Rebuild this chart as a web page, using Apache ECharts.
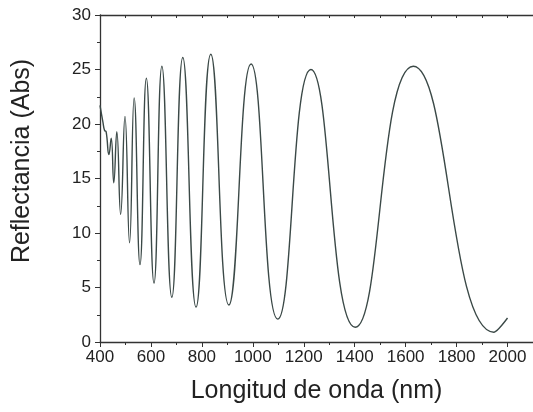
<!DOCTYPE html>
<html>
<head>
<meta charset="utf-8">
<script src="https://cdn.jsdelivr.net/npm/echarts@6/dist/echarts.min.js"></script>
<style>
html, body { margin: 0; padding: 0; background: #fff; }
#chart { width: 533px; height: 412px; }
</style>
</head>
<body>
<div id="chart"></div>
<script>
// wavelength (nm)
var wavelength = [400, 412, 418, 424, 435, 444, 454, 466, 481, 498, 516, 534, 557, 582, 612, 643, 682, 725, 777, 835, 906, 993, 1098, 1228, 1402, 1630, 1946, 2000];
// reflectance values
var reflect = [21.7, 20.1, 19.4, 19.3, 17.2, 18.7, 14.6, 19.3, 11.7, 20.7, 9.1, 22.4, 7.1, 24.2, 5.4, 25.3, 4.1, 26.1, 3.2, 26.4, 3.4, 25.5, 2.1, 25.0, 1.35, 25.3, 0.9, 2.2];

var points = [];
for (var i = 0; i < wavelength.length; i++) {
    points.push([wavelength[i], reflect[i]]);
}

var axisColor = '#333';
var labelFont = { fontFamily: 'Liberation Sans', fontSize: 17, color: '#222' };

var myChart = echarts.init(document.getElementById('chart'));
var option = {
    animation: false,
    grid: { left: 100, top: 15, right: -7, bottom: 70 },
    xAxis: [{
        type: 'value',
        min: 400,
        max: 2100,
        interval: 200,
        name: 'Longitud de onda (nm)',
        nameLocation: 'middle',
        nameGap: 37,
        nameTextStyle: { fontFamily: 'Liberation Sans', fontSize: 25, color: '#222' },
        axisLine: { lineStyle: { color: axisColor, width: 1.3 } },
        axisTick: { inside: false, length: 5, lineStyle: { color: axisColor } },
        minorTick: { show: true, splitNumber: 2, length: 3, lineStyle: { color: axisColor } },
        axisLabel: Object.assign({ margin: 7, showMaxLabel: false, formatter: function (v) { return String(v); } }, labelFont),
        splitLine: { show: false }
    }, {
        type: 'value',
        position: 'top',
        min: 400,
        max: 2100,
        interval: 100,
        axisLine: { show: true, lineStyle: { color: axisColor, width: 1.3 } },
        axisTick: { inside: true, length: 3, lineStyle: { color: axisColor } },
        axisLabel: { show: false },
        splitLine: { show: false }
    }],
    yAxis: {
        type: 'value',
        min: 0,
        max: 30,
        interval: 5,
        name: 'Reflectancia (Abs)',
        nameLocation: 'middle',
        nameGap: 65,
        nameTextStyle: { fontFamily: 'Liberation Sans', fontSize: 25, color: '#222', padding: [0, 0, 0, 35] },
        axisLine: { show: true, lineStyle: { color: axisColor, width: 1.3 } },
        axisTick: { show: true, length: 5, lineStyle: { color: axisColor } },
        minorTick: { show: true, splitNumber: 2, length: 3, lineStyle: { color: axisColor } },
        axisLabel: Object.assign({ margin: 9 }, labelFont),
        splitLine: { show: false }
    },
    series: [{
        type: 'line',
        data: points,
        smooth: 0.5,
        showSymbol: false,
        lineStyle: { color: '#3b4947', width: 1.4 }
    }]
};
myChart.setOption(option);
</script>
</body>
</html>
